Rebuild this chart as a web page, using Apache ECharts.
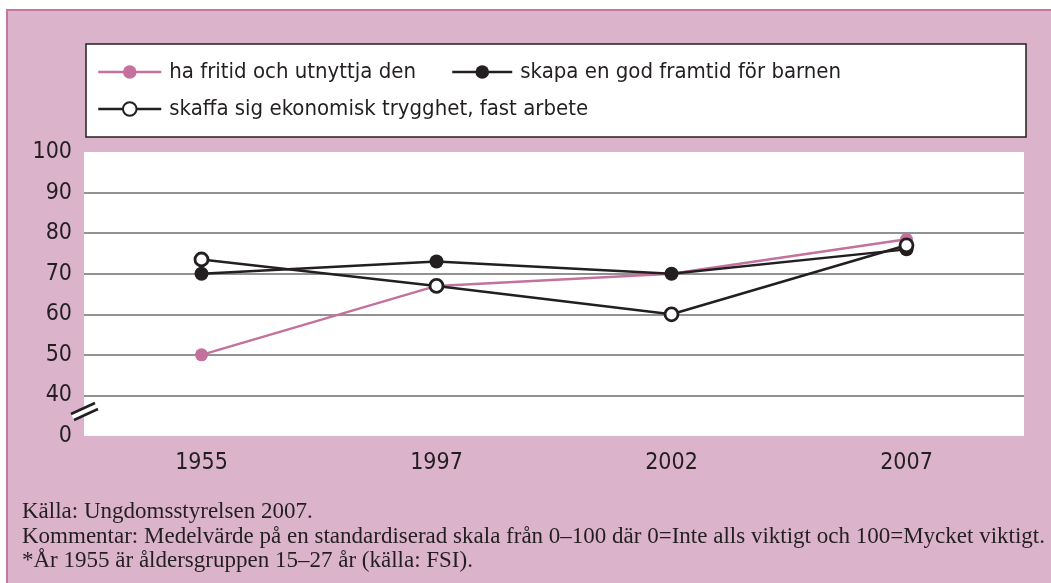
<!DOCTYPE html>
<html>
<head>
<meta charset="utf-8">
<script src="https://cdn.jsdelivr.net/npm/echarts@6/dist/echarts.min.js"></script>
<style>
    body { margin:0; background:#fff; }
    #frame { position:absolute; left:6px; top:9px; width:1045px; height:574px; background:#dbb3cb;
             border-top:2px solid #c6779e; border-left:2px solid #c6779e; box-sizing:border-box; }
    #chart { position:absolute; left:0; top:0; width:1051px; height:583px; }
</style>
</head>
<body>
<div id="frame"></div>
<div id="chart"></div>
<script>
// data
var years = ['1955', '1997', '2002', '2007'];
var fritid = [50, 67, 70, 78.5];      // ha fritid och utnyttja den
var framtid = [70, 73, 70, 76];       // skapa en god framtid för barnen
var trygghet = [73.5, 67, 60, 77];    // skaffa sig ekonomisk trygghet, fast arbete
var names = ['ha fritid och utnyttja den', 'skapa en god framtid för barnen', 'skaffa sig ekonomisk trygghet, fast arbete'];
// axis is broken: the bottom tick (30) is shown as 0
var yMin = 30, yMax = 100, yStep = 10;
var notes = [
    'Källa: Ungdomsstyrelsen 2007.',
    'Kommentar: Medelvärde på en standardiserad skala från 0–100 där 0=Inte alls viktigt och 100=Mycket viktigt.',
    '*År 1955 är åldersgruppen 15–27 år (källa: FSI).'
];

var pink = '#c4719d';
var ink = '#231f20';
var narrow = '"Liberation Sans Narrow", "DejaVu Sans Condensed", sans-serif';
var serifFont = '23px "Liberation Serif", serif';

var _chart = echarts.init(document.getElementById('chart'));

function legendItem(name, left, top, w) {
    return {
        data: [name],
        left: left,
        top: top,
        padding: 0,
        itemWidth: w,
        itemHeight: 17,
        selectedMode: false,
        lineStyle: {width: 2.5},
        textStyle: {
            fontFamily: narrow,
            fontSize: 22,
            color: ink,
            padding: [0, 0, 0, 3]
        }
    };
}

var option = {
    backgroundColor: 'transparent',
    animation: false,
    legend: [
        legendItem(names[0], 97, 61, 63),
        legendItem(names[1], 451, 61, 60),
        legendItem(names[2], 97, 98, 63)
    ],
    grid: {
        left: 84,
        right: 27,
        top: 152,
        bottom: 147,
        show: true,
        backgroundColor: '#fff',
        borderWidth: 0
    },
    xAxis: {
        type: 'category',
        data: years,
        axisLine: {show: false},
        axisTick: {show: false},
        axisLabel: {
            margin: 16,
            fontFamily: narrow,
            fontSize: 23,
            color: ink
        }
    },
    yAxis: {
        type: 'value',
        min: yMin,
        max: yMax,
        interval: yStep,
        axisLine: {show: false},
        axisTick: {show: false},
        splitLine: {
            show: true,
            showMinLine: false,
            showMaxLine: false,
            lineStyle: {color: '#6e6e6e', width: 1.5}
        },
        axisLabel: {
            margin: 12,
            fontFamily: narrow,
            fontSize: 23,
            color: ink,
            formatter: function (v) {
                return v === yMin ? '0' : String(v);
            }
        }
    },
    graphic: [
        {
            type: 'rect',
            shape: {x: 86, y: 44, width: 940, height: 93},
            style: {fill: '#fff', stroke: ink, lineWidth: 1.5}
        },
        // axis break mark
        {
            type: 'polygon',
            z: 10,
            shape: {points: [[71, 414], [95, 403], [98, 409], [74, 420]]},
            style: {fill: '#fff'}
        },
        {
            type: 'polyline',
            z: 11,
            shape: {points: [[71, 414], [95, 403]]},
            style: {stroke: ink, lineWidth: 2.5}
        },
        {
            type: 'polyline',
            z: 11,
            shape: {points: [[74, 420], [98, 409]]},
            style: {stroke: ink, lineWidth: 2.5}
        },
        {
            type: 'text',
            left: 22,
            top: 500,
            style: {text: notes[0], font: serifFont, fill: ink}
        },
        {
            type: 'text',
            left: 22,
            top: 525,
            style: {text: notes[1], font: serifFont, fill: ink}
        },
        {
            type: 'text',
            left: 22,
            top: 549,
            style: {text: notes[2], font: serifFont, fill: ink}
        }
    ],
    series: [
        {
            name: names[0],
            type: 'line',
            data: fritid,
            symbol: 'circle',
            symbolSize: 13,
            lineStyle: {color: pink, width: 2.5},
            itemStyle: {color: pink}
        },
        {
            name: names[1],
            type: 'line',
            data: framtid,
            symbol: 'circle',
            symbolSize: 14,
            lineStyle: {color: ink, width: 2.5},
            itemStyle: {color: ink}
        },
        {
            name: names[2],
            type: 'line',
            data: trygghet,
            symbol: 'circle',
            symbolSize: 13,
            lineStyle: {color: ink, width: 2.5},
            itemStyle: {color: '#fff', borderColor: ink, borderWidth: 2.8}
        }
    ]
};
_chart.setOption(option);
</script>
</body>
</html>
